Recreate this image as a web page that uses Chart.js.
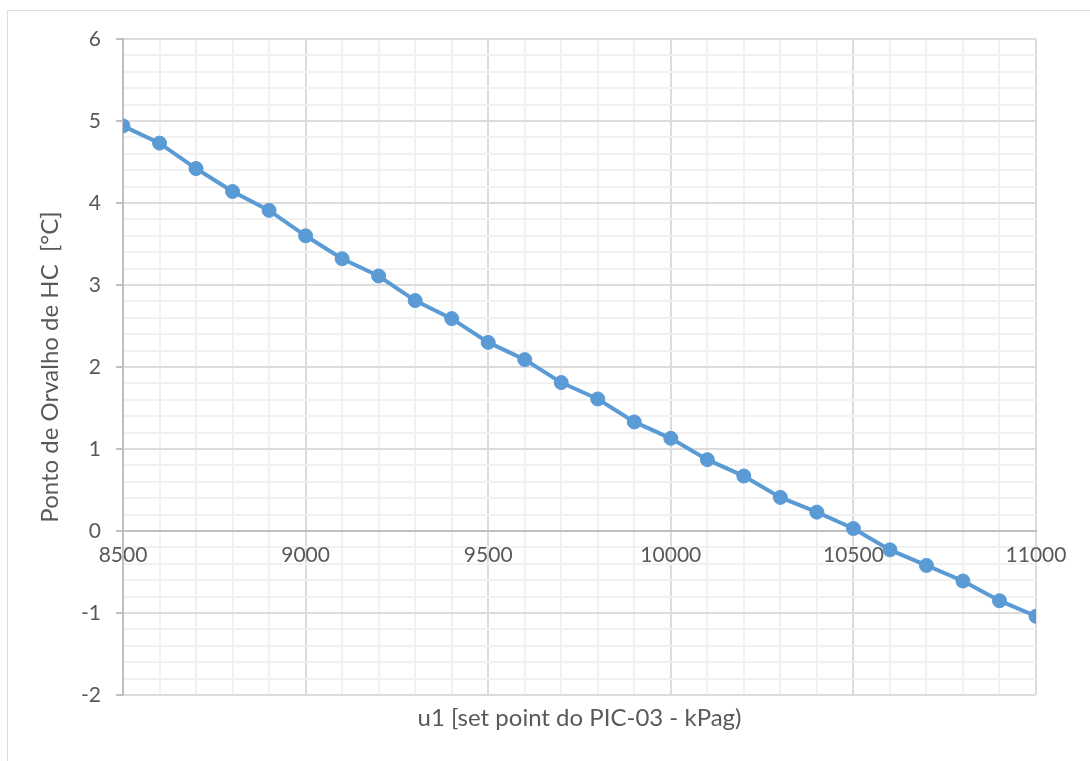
<!DOCTYPE html>
<html>
<head>
<meta charset="utf-8">
<script src="https://cdn.jsdelivr.net/npm/chart.js@4.4.1/dist/chart.umd.min.js"></script>
<style>
  html, body { margin: 0; padding: 0; background: #ffffff; }
  #wrap { width: 1090px; height: 761px; position: relative; }
</style>
</head>
<body>
<div id="wrap"><canvas id="c" width="1090" height="761"></canvas></div>
<script>
const u1Values = [8500, 8600, 8700, 8800, 8900, 9000, 9100, 9200, 9300, 9400, 9500, 9600, 9700,
                  9800, 9900, 10000, 10100, 10200, 10300, 10400, 10500, 10600, 10700, 10800, 10900, 11000];
const dewPoint = [4.94, 4.73, 4.42, 4.14, 3.91, 3.60, 3.32, 3.11, 2.81, 2.59, 2.30, 2.09, 1.81,
                  1.61, 1.33, 1.13, 0.87, 0.67, 0.41, 0.23, 0.03, -0.23, -0.42, -0.61, -0.85, -1.04];
const xTickLabels = ['8500', '9000', '9500', '10000', '10500', '11000'];
const yTickLabels = ['-2', '-1', '0', '1', '2', '3', '4', '5', '6'];
const xTitle = 'u1 [set point do PIC-03 - kPag)';
const yTitle = 'Ponto de Orvalho de HC  [°C]';

const FONT = 'Lato, "Open Sans", sans-serif';
const TEXT = '#595959';
const MAJOR = '#dcdcdc';
const MINOR = '#f1f1f1';
const AXIS = '#bfbfbf';

function isMajorX(v) { return Math.abs(v - Math.round(v)) < 1e-6 && xTickLabels.includes(String(Math.round(v))); }
function isMajorY(v) { return Math.abs(v - Math.round(v)) < 1e-6 && yTickLabels.includes(String(Math.round(v))); }

const points = u1Values.map((x, i) => ({ x: x, y: dewPoint[i] }));

const frame = {
  id: 'frame',
  beforeDraw(chart) {
    const ctx = chart.ctx;
    ctx.save();
    ctx.fillStyle = '#ffffff';
    ctx.fillRect(0, 0, chart.width, chart.height);
    ctx.strokeStyle = MAJOR;
    ctx.lineWidth = 1;
    ctx.beginPath();
    ctx.moveTo(7.5, chart.height);
    ctx.lineTo(7.5, 10.5);
    ctx.lineTo(chart.width, 10.5);
    ctx.stroke();
    ctx.restore();
  },
  afterDraw(chart) {
    const ctx = chart.ctx;
    const a = chart.chartArea;
    ctx.save();
    ctx.fillStyle = TEXT;
    ctx.font = '24px ' + FONT;
    ctx.textAlign = 'center';
    ctx.textBaseline = 'middle';
    ctx.fillText(xTitle, (a.left + a.right) / 2, a.bottom + 23);
    ctx.restore();
  }
};

new Chart(document.getElementById('c'), {
  type: 'line',
  data: {
    datasets: [{
      data: points,
      borderColor: '#5b9bd5',
      backgroundColor: '#5b9bd5',
      borderWidth: 4,
      pointRadius: 7,
      pointBorderWidth: 1,
      pointBorderColor: '#5b9bd5',
      pointBackgroundColor: '#5b9bd5',
      tension: 0,
      fill: false
    }]
  },
  plugins: [frame],
  options: {
    responsive: false,
    animation: false,
    devicePixelRatio: 1,
    layout: { padding: { left: 0, top: 39, right: 54, bottom: 66 } },
    plugins: { legend: { display: false }, tooltip: { enabled: false }, title: { display: false } },
    scales: {
      x: {
        type: 'linear',
        position: { y: 0 },
        min: 8500, max: 11000,
        ticks: {
          stepSize: 100,
          autoSkip: false,
          maxRotation: 0,
          color: TEXT,
          font: { family: FONT, size: 21 },
          padding: 12,
          callback: (v) => isMajorX(v) ? String(Math.round(v)) : ''
        },
        grid: {
          color: (c) => isMajorX(c.tick.value) ? MAJOR : MINOR,
          lineWidth: 2,
          drawTicks: false,
          tickLength: 0
        },
        border: { display: true, color: AXIS, width: 2 }
      },
      y: {
        type: 'linear',
        min: -2, max: 6,
        afterFit: (s) => { s.width = 123; },
        ticks: {
          stepSize: 0.2,
          autoSkip: false,
          color: TEXT,
          font: { family: FONT, size: 21 },
          padding: 15,
          callback: (v) => isMajorY(v) ? String(Math.round(v)) : ''
        },
        grid: {
          color: (c) => isMajorY(c.tick.value) ? MAJOR : MINOR,
          tickColor: (c) => isMajorY(c.tick.value) ? AXIS : 'rgba(0,0,0,0)',
          tickLength: 7,
          lineWidth: 2
        },
        border: { display: true, color: AXIS, width: 2 },
        title: {
          display: true,
          text: yTitle,
          color: TEXT,
          font: { family: FONT, size: 24 },
          padding: { top: 36, bottom: 0 }
        }
      }
    }
  }
});
</script>
</body>
</html>
